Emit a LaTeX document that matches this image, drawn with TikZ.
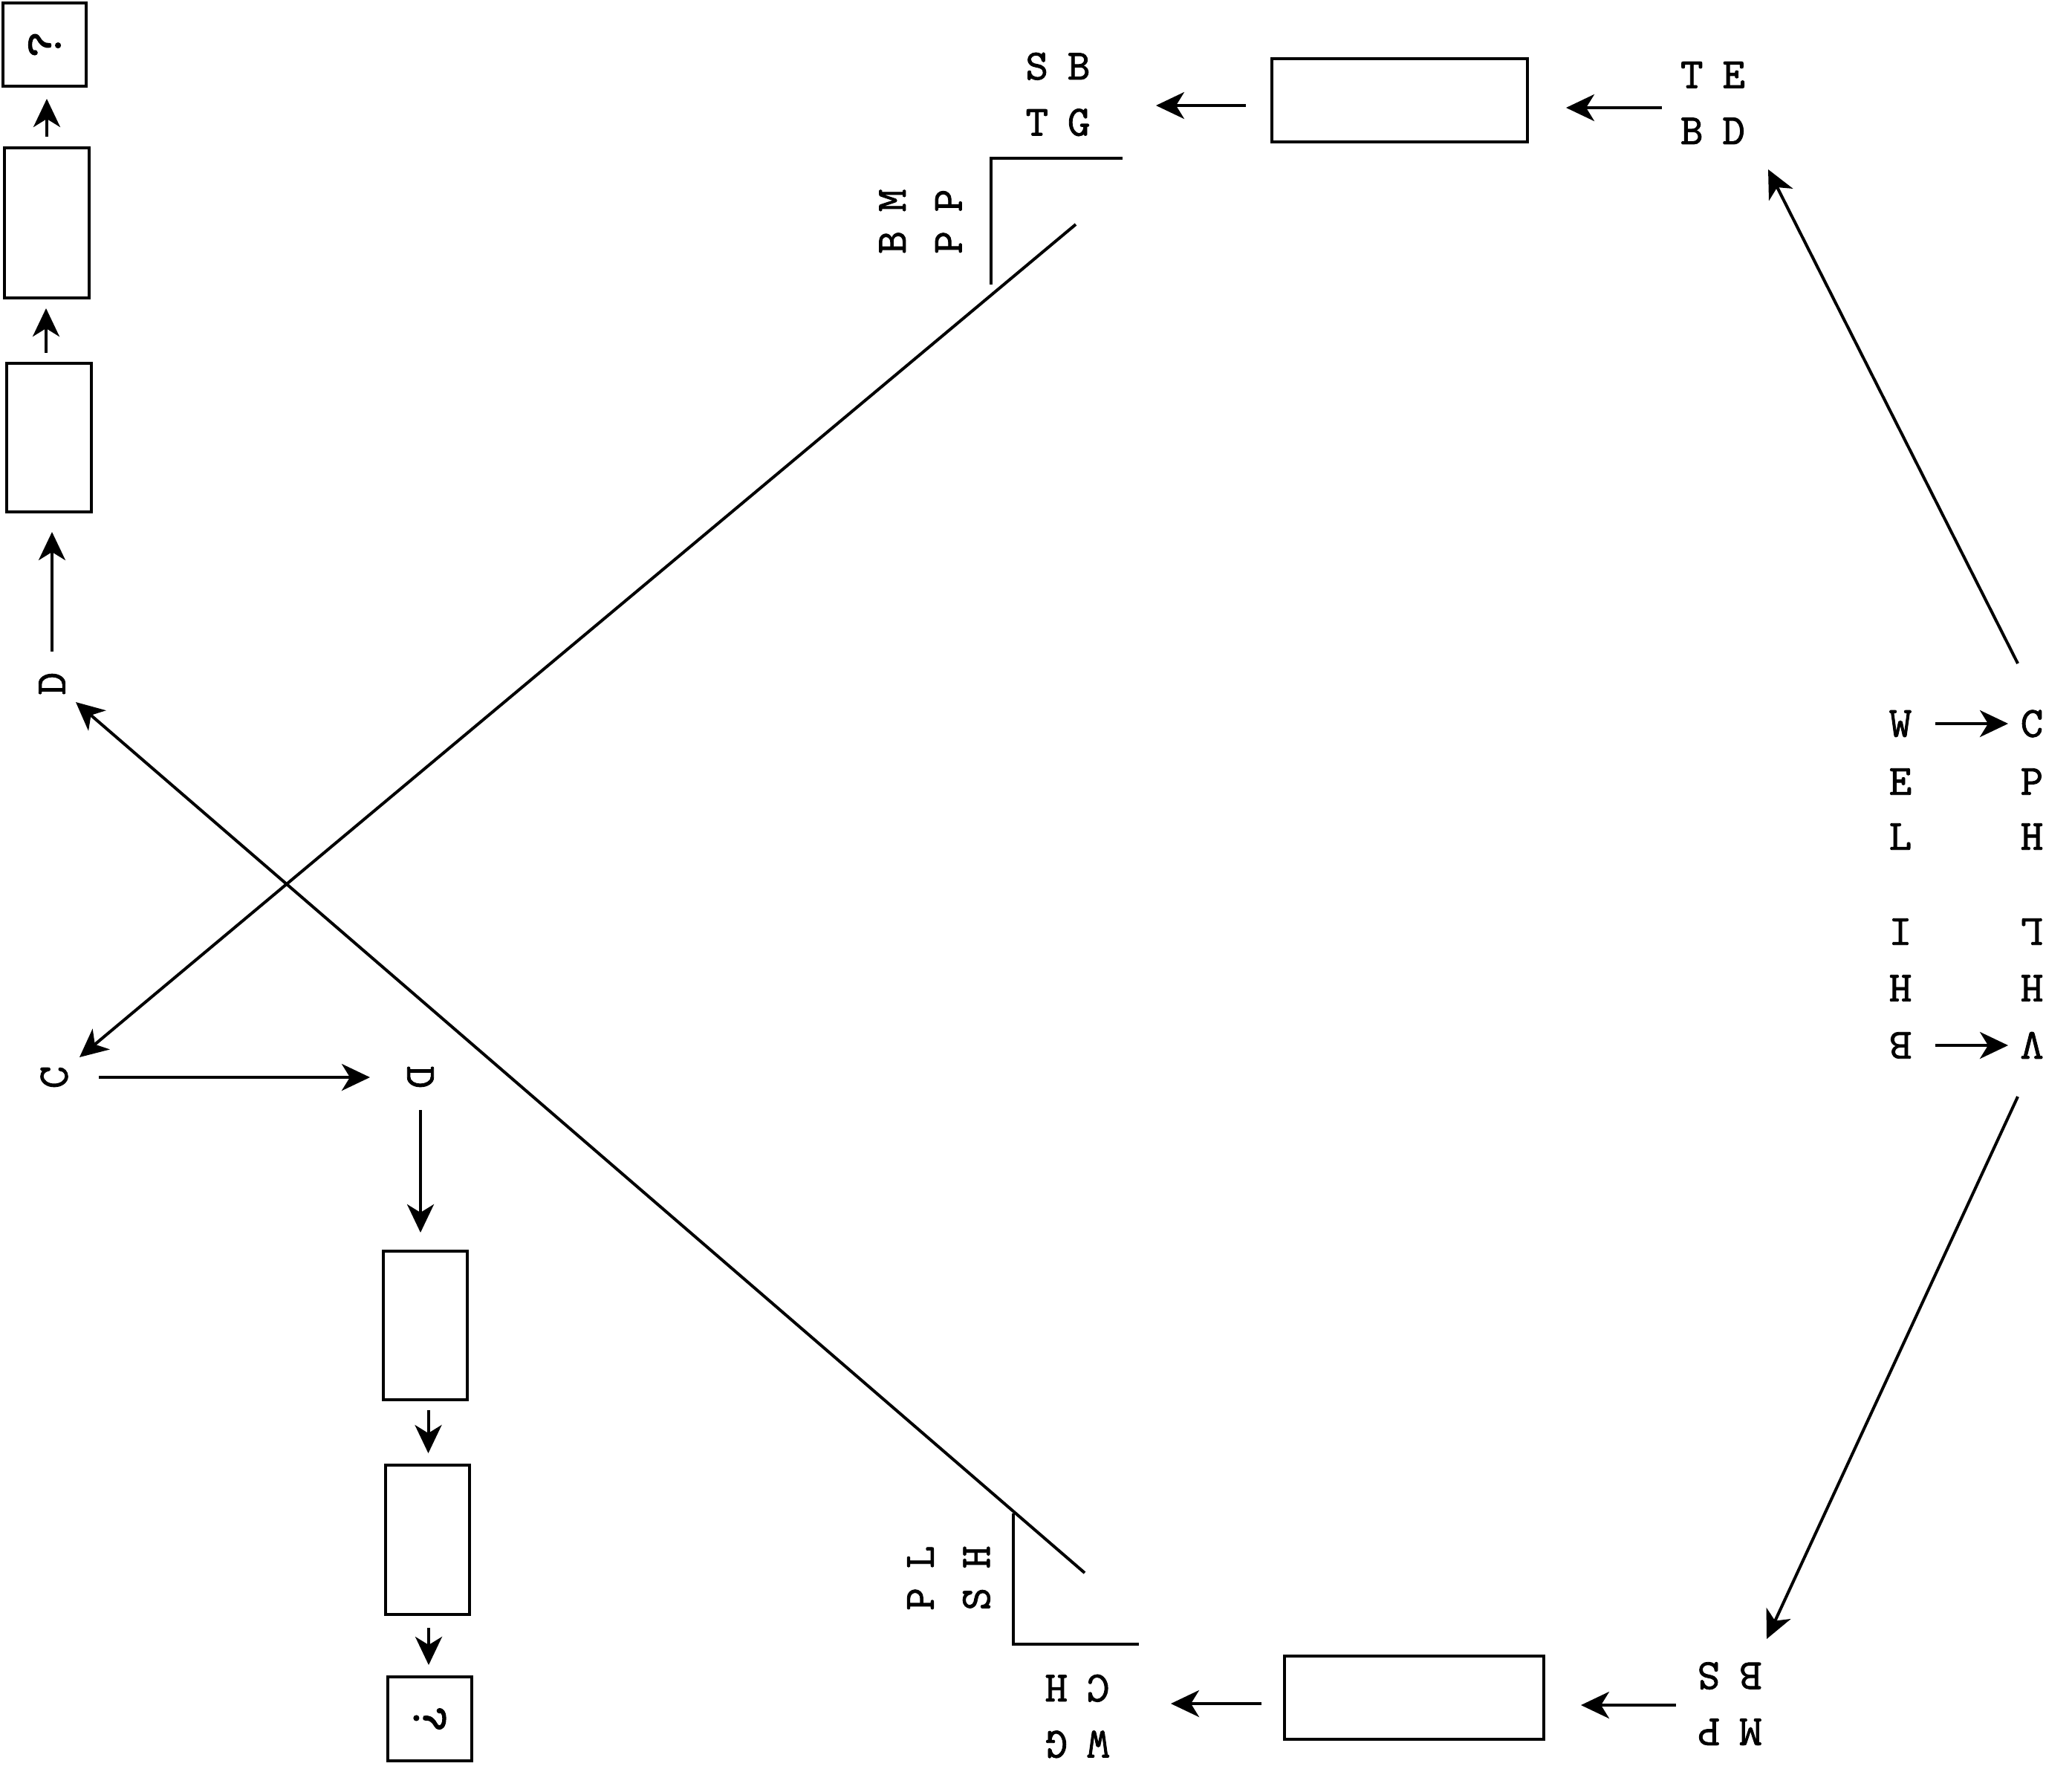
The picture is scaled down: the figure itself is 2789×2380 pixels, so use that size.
\documentclass[tikz,border=0pt]{standalone}
\usepackage{fontspec}
\newfontfamily\mymono{lmmono10-regular}[Extension=.otf,FakeBold=1.5]
\usetikzlibrary{arrows.meta}
\newcommand{\gp}{\hspace{26pt}}
\begin{document}
\begin{tikzpicture}[x=1pt,y=-1pt,
  box/.style={draw,line width=4pt,inner sep=0pt},
  txt/.style={font=\fontsize{58}{75.5}\selectfont\mymono,inner sep=0pt,align=center},
  qtxt/.style={font=\fontsize{70}{80}\selectfont\mymono},
  arr/.style={line width=4pt,-{Stealth[length=38pt,width=36pt,inset=11pt]}},
  ln/.style={line width=4pt},
]
\useasboundingbox (0,0) rectangle (2789,2380);
\fill[white] (0,0) rectangle (2789,2380);

% top-left chain
\node[box,qtxt,minimum width=112pt,minimum height=112pt,rotate=90] (q1) at (60,60) {?};
\node[box,minimum width=114pt,minimum height=202pt] (b2) at (63,300) {};
\node[box,minimum width=114pt,minimum height=200pt] (b3) at (66,589) {};
\node[txt,rotate=90] (D1) at (70,920) {D};
\draw[arr,shorten <=13pt,shorten >=15pt] (b2.north) -- (b2.north |- q1.west);
\coordinate (a2s) at ([xshift=-4pt]b3.north);
\draw[arr,shorten <=12pt,shorten >=12pt] (a2s) -- (a2s |- b2.south);
\draw[arr,shorten <=43pt,shorten >=25pt] (D1.center) -- (D1.center |- b3.south);

% bottom-left chain
\node[txt,rotate=90] (C1) at (73,1450) {C};
\node[txt,rotate=-90] (D2) at (566,1450) {D};
\node[box,minimum width=113pt,minimum height=200pt] (b4) at (572.5,1784) {};
\node[box,minimum width=113pt,minimum height=201pt] (b5) at (575.5,2072.5) {};
\node[box,qtxt,minimum width=113pt,minimum height=113pt,rotate=-90] (q2) at (578.5,2313.5) {?};
\draw[arr,shorten <=60pt,shorten >=68pt] (C1.center) -- (D2.center);
\draw[arr,shorten <=44pt,shorten >=23pt] (D2.center) -- (D2.center |- b4.north);
\coordinate (a5s) at ([xshift=4pt]b4.south);
\draw[arr,shorten <=12pt,shorten >=14pt] (a5s) -- (a5s |- b5.north);
\coordinate (a6s) at ([xshift=1.5pt]b5.south);
\draw[arr,shorten <=16pt,shorten >=14pt] (a6s) -- (a6s |- q2.west);

% top centre
\node[txt] (SBTG) at (1424,127) {S\gp B\\T\gp G};
\node[box,minimum width=344pt,minimum height=112pt] (boxT) at (1884,135) {};
\node[txt] (TEBD) at (2305.5,138.5) {T\gp E\\B\gp D};
\node[txt,rotate=90] (BMPP) at (1239,298) {B\gp M\\P\gp P};
\draw[arr] ([shift={(-69,6.5)}]TEBD.center) -- ([shift={(50,10)}]boxT.east);
\draw[arr] ([shift={(-33,7)}]boxT.west) -- ([shift={(132,15)}]SBTG.center);
\coordinate (k1) at (1334,213);
\draw[ln] (1511,213) -- (k1) -- (1334,383);

% bottom centre
\node[txt,rotate=90] (PLSH) at (1277,2124) {P\gp L\\S\gp H};
\node[box,minimum width=349pt,minimum height=112pt] (boxB) at (1903.5,2285) {};
\node[txt,rotate=180] (CHMG) at (1450,2310) {W\gp G\\C\gp H};
\node[txt,rotate=180] (WPBS) at (2328,2293) {M\gp P\\B\gp S};
\draw[arr] ([shift={(-72,2)}]WPBS.center) -- ([shift={(48,10)}]boxB.east);
\draw[arr] ([shift={(-29,8)}]boxB.west) -- ([shift={(126,-17)}]CHMG.center);
\coordinate (k2) at (1364,2213);
\draw[ln] (1364,2037) -- (k2) -- (1533,2213);

% right block
\node[txt] (rW) at (2558,974) {W};
\node[txt] (rE) at (2558,1052) {E};
\node[txt] (rL) at (2558,1126) {L};
\node[txt] (rC) at (2735,974) {C};
\node[txt] (rP) at (2735,1052) {P};
\node[txt] (rH) at (2735,1126) {H};
\node[txt,rotate=180] (sI) at (2558,1254) {I};
\node[txt,rotate=180] (sH) at (2558,1330) {H};
\node[txt,rotate=180] (sB) at (2558,1407) {B};
\node[txt,rotate=180] (sL) at (2735,1254) {L};
\node[txt,rotate=180] (sH2) at (2735,1330) {H};
\node[txt,rotate=180] (sV) at (2735,1407) {V};
\draw[arr,shorten <=47pt,shorten >=32pt] (rW.center) -- (rC.center);
\draw[arr,shorten <=47pt,shorten >=32pt] (sB.center) -- (sV.center);

% long connectors
\draw[arr] ([shift={(-19,-81)}]rC.center) -- ([shift={(74.5,89.5)}]TEBD.center);
\draw[arr] ([shift={(-19,69)}]sV.center) -- ([shift={(50,-87)}]WPBS.center);
\draw[arr] ([shift={(209,4)}]BMPP.center) -- ([shift={(34,-27)}]C1.center);
\draw[arr] ([shift={(183,-7)}]PLSH.center) -- ([shift={(32,25)}]D1.center);
\end{tikzpicture}
\end{document}
